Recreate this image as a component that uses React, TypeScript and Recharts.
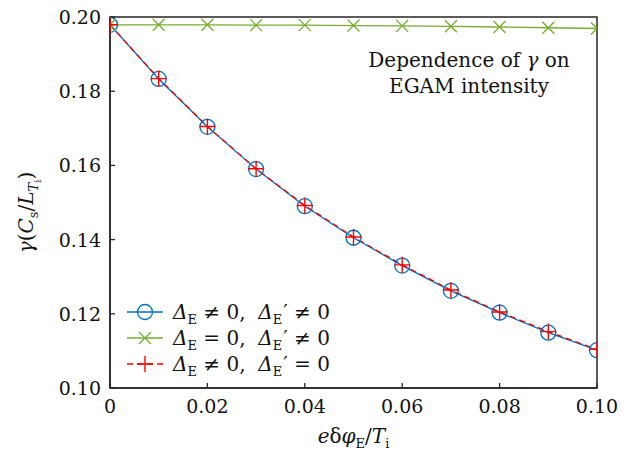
import { Label, Line, LineChart, ReferenceArea, XAxis, YAxis } from "recharts";

const xValues = [0, 0.01, 0.02, 0.03, 0.04, 0.05, 0.06, 0.07, 0.08, 0.09, 0.1];
const bothNonZero = [0.1979, 0.1833, 0.1704, 0.159, 0.149, 0.1405, 0.133, 0.1262, 0.1203, 0.1149, 0.1102];
const flatGamma = [0.1979, 0.1979, 0.1979, 0.1978, 0.1978, 0.1977, 0.1976, 0.1975, 0.1973, 0.1971, 0.1969];
const derivZero = [0.1979, 0.1834, 0.1705, 0.1591, 0.1492, 0.1407, 0.1332, 0.1264, 0.1205, 0.1152, 0.1104];
const xTicks = [0, 0.02, 0.04, 0.06, 0.08, 0.1];
const yTicks = [0.1, 0.12, 0.14, 0.16, 0.18, 0.2];

const data = xValues.map((x, i) => ({
	x,
	both: bothNonZero[i],
	flat: flatGamma[i],
	deriv: derivZero[i],
}));

const FONT = "'DejaVu Serif', serif";
const AXIS = "#262626";
const BLUE = "#0072BD";
const GREEN = "#77AC30";
const RED = "#FF0000";

const fmt = (v: number) => (v === 0 ? "0" : v.toFixed(2));

const XTick = ({ x, y, payload }: any) => (
	<g>
		<line x1={x} x2={x} y1={y} y2={y - 5} stroke={AXIS} strokeWidth={1.3} />
		<text x={x} y={y + 25} textAnchor="middle" fontFamily={FONT} fontSize={19} fill="#111">
			{fmt(payload.value)}
		</text>
	</g>
);

const YTick = ({ x, y, payload }: any) => (
	<g>
		<line x1={x} x2={x + 5} y1={y} y2={y} stroke={AXIS} strokeWidth={1.3} />
		<text x={x - 9} y={y + 7} textAnchor="end" fontFamily={FONT} fontSize={19} fill="#111">
			{fmt(payload.value)}
		</text>
	</g>
);

const circleDot = (p: any) => (
	<circle key={`c-${p.index}`} cx={p.cx} cy={p.cy} r={7.5} fill="none" stroke={BLUE} strokeWidth={1.3} />
);
const crossDot = (p: any) => (
	<path
		key={`x-${p.index}`}
		d={`M${p.cx - 6},${p.cy - 6}L${p.cx + 6},${p.cy + 6}M${p.cx - 6},${p.cy + 6}L${p.cx + 6},${p.cy - 6}`}
		stroke={GREEN}
		strokeWidth={1.3}
		fill="none"
	/>
);
const plusDot = (p: any) => (
	<path
		key={`p-${p.index}`}
		d={`M${p.cx - 8},${p.cy}L${p.cx + 8},${p.cy}M${p.cx},${p.cy - 8}L${p.cx},${p.cy + 8}`}
		stroke={RED}
		strokeWidth={1.4}
		fill="none"
	/>
);

const legendItems = [
	{ color: BLUE, dash: undefined, marker: "circle", eq1: "≠", eq2: "≠" },
	{ color: GREEN, dash: undefined, marker: "cross", eq1: "=", eq2: "≠" },
	{ color: RED, dash: "6 4", marker: "plus", eq1: "≠", eq2: "=" },
];

const LegendMarker = ({ kind, color }: { kind: string; color: string }) => {
	if (kind === "circle") return <circle cx={20} cy={13} r={7.5} fill="none" stroke={color} strokeWidth={1.3} />;
	if (kind === "cross")
		return <path d="M14,7L26,19M14,19L26,7" stroke={color} strokeWidth={1.3} fill="none" />;
	return <path d="M12,13L28,13M20,5L20,21" stroke={color} strokeWidth={1.4} fill="none" />;
};

const ChartLegend = () => (
	<div
		style={{
			position: "absolute",
			left: 125,
			top: 299,
			fontFamily: FONT,
			fontSize: 20,
			color: "#111",
		}}
	>
		{legendItems.map((it) => (
			<div key={it.marker} style={{ display: "flex", alignItems: "center", height: 26 }}>
				<svg width={40} height={26} style={{ marginRight: 8 }}>
					<line x1={2} x2={38} y1={13} y2={13} stroke={it.color} strokeWidth={1.3} strokeDasharray={it.dash} />
					<LegendMarker kind={it.marker} color={it.color} />
				</svg>
				<span style={{ whiteSpace: "nowrap", lineHeight: "26px" }}>
					<i>Δ</i>
					<sub style={{ fontSize: 13, lineHeight: 0 }}>E</sub> {it.eq1} 0,&nbsp; <i>Δ</i>
					<sub style={{ fontSize: 13, lineHeight: 0 }}>E</sub>
					<span style={{ marginLeft: 1 }}>′</span> {it.eq2} 0
				</span>
			</div>
		))}
	</div>
);

const YTitle = ({ viewBox }: any) => {
	const cx = 33;
	const cy = viewBox.y + viewBox.height / 2 + 10;
	return (
		<text
			x={cx}
			y={cy}
			transform={`rotate(-90 ${cx} ${cy})`}
			textAnchor="middle"
			fontFamily={FONT}
			fontSize={20}
			fill="#111"
		>
			<tspan fontStyle="italic">γ</tspan>
			<tspan>(</tspan>
			<tspan fontStyle="italic">C</tspan>
			<tspan fontSize={13} dy={5}>s</tspan>
			<tspan dy={-5}>/</tspan>
			<tspan fontStyle="italic">L</tspan>
			<tspan fontSize={13} fontStyle="italic" dy={5}>T</tspan>
			<tspan fontSize={10} dy={3}>i</tspan>
			<tspan dy={-8}>)</tspan>
		</text>
	);
};

const XTitle = ({ viewBox }: any) => {
	const cx = viewBox.x + viewBox.width / 2;
	return (
		<text x={cx} y={443} textAnchor="middle" fontFamily={FONT} fontSize={20} fill="#111">
			<tspan fontStyle="italic">e</tspan>
			<tspan>δ</tspan>
			<tspan fontStyle="italic">φ</tspan>
			<tspan fontSize={13} dy={5}>E</tspan>
			<tspan dy={-5}>/</tspan>
			<tspan fontStyle="italic">T</tspan>
			<tspan fontSize={13} dy={5}>i</tspan>
		</text>
	);
};

export default function App() {
	return (
		<div style={{ position: "absolute", left: 0, top: 0, width: 635, height: 453, background: "#fff" }}>
			<LineChart width={635} height={453} data={data} margin={{ top: 17, right: 38, left: 50, bottom: 35 }}>
				<XAxis
					dataKey="x"
					type="number"
					domain={[0, 0.1]}
					ticks={xTicks}
					allowDataOverflow
					height={30}
					tickSize={0}
					tickMargin={0}
					tick={<XTick />}
					axisLine={{ stroke: AXIS, strokeWidth: 1.5 }}
				>
					<Label content={<XTitle />} />
				</XAxis>
				<YAxis
					type="number"
					domain={[0.1, 0.2]}
					ticks={yTicks}
					allowDataOverflow
					width={60}
					tickSize={0}
					tickMargin={0}
					tick={<YTick />}
					axisLine={{ stroke: AXIS, strokeWidth: 1.5 }}
				>
					<Label content={<YTitle />} />
				</YAxis>
				<ReferenceArea x1={0} x2={0.1} y1={0.1} y2={0.2} fill="none" stroke={AXIS} strokeWidth={1.5} />
				<Line
					dataKey="both"
					stroke={BLUE}
					strokeWidth={1.3}
					dot={circleDot}
					activeDot={false}
					isAnimationActive={false}
				/>
				<Line
					dataKey="flat"
					stroke={GREEN}
					strokeWidth={1.3}
					dot={crossDot}
					activeDot={false}
					isAnimationActive={false}
				/>
				<Line
					dataKey="deriv"
					stroke={RED}
					strokeWidth={1.3}
					strokeDasharray="6 4"
					dot={plusDot}
					activeDot={false}
					isAnimationActive={false}
				/>
			</LineChart>
			<ChartLegend />
			<div
				style={{
					position: "absolute",
					left: 339,
					top: 47,
					width: 260,
					textAlign: "center",
					whiteSpace: "nowrap",
					fontFamily: FONT,
					fontSize: 20,
					lineHeight: "26px",
					color: "#111",
				}}
			>
				Dependence of <i>γ</i> on
				<br />
				EGAM intensity
			</div>
		</div>
	);
}
